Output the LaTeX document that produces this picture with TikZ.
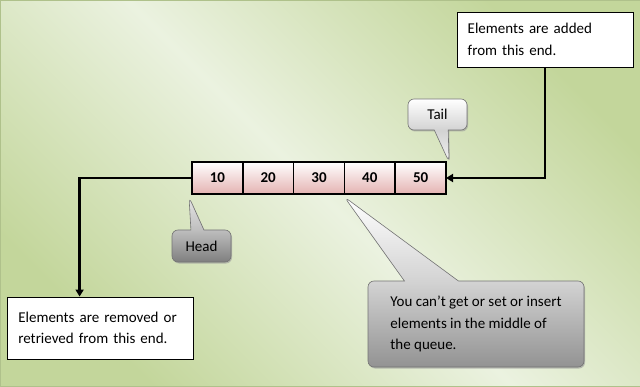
\documentclass[tikz,border=0pt]{standalone}
\usepackage{fontspec}
\setmainfont{Carlito}
\usetikzlibrary{shapes.callouts, arrows.meta, positioning, shadows}

\definecolor{bgLight}{HTML}{EBF2E0}
\definecolor{bgGreen}{HTML}{C3D69B}
\definecolor{cellPink}{HTML}{E4B3B2}

\begin{document}
\begin{tikzpicture}[
    x=1pt, y=1pt,
    every node/.style={font=\fontsize{15}{21.7}\selectfont},
    cell/.style={rectangle, draw=black, line width=1.5pt, outer sep=0pt, inner sep=0pt, minimum width=50.8pt, minimum height=32pt, top color=white, bottom color=cellPink, font=\fontsize{15}{18}\selectfont\bfseries},
    note/.style={rectangle, draw=black, line width=0.9pt, fill=white, align=left, inner ysep=0pt},
    bubble/.style={rectangle callout, rounded corners=6pt, draw=gray!90!black, line width=0.6pt, drop shadow={shadow xshift=1pt, shadow yshift=-1.5pt, fill=gray!80, opacity=0.6}},
    arrow/.style={-{Triangle[length=7pt, width=8pt]}, line width=2.8pt}
]

% background
\useasboundingbox (0,0) rectangle (640,386);
\shade[left color=bgGreen, right color=bgGreen, middle color=bgLight, shading angle=135, draw=bgGreen!90!black, line width=0.8pt] (0,0) rectangle (640,386);

% queue
\node[cell] (c1) at (217.4,208) {10};
\node[cell, right=0pt of c1] (c2) {20};
\node[cell, right=0pt of c2] (c3) {30};
\node[cell, right=0pt of c3] (c4) {40};
\node[cell, right=0pt of c4] (c5) {50};

% ends
\node[note, text width=154.6pt, inner xsep=10.7pt, minimum height=55pt] (added) at (545,346.5) {Elements are added\\from this end.};
\node[note, text width=163.4pt, inner xsep=11.3pt, minimum height=62pt] (removed) at (100,58) {Elements are removed or\\retrieved from this end.};

\draw[arrow] (added.south) |- (c5.east);
\draw[arrow] (c1.west) -| ([xshift=-20.4pt]removed.north);

% callouts
\node[bubble, minimum width=59pt, minimum height=31pt, top color=white, bottom color=gray!10, middle color=gray!35, callout absolute pointer={([xshift=3pt]c5.north east)}, callout pointer width=14pt] (tail) at (437.5,271.5) {Tail};
\node[bubble, minimum width=59pt, minimum height=32pt, top color=gray!20, bottom color=gray, middle color=gray!50, callout absolute pointer={([xshift=-3pt, yshift=-3pt]c1.south west)}, callout pointer width=13pt] (head) at (201.5,140) {Head};
\node[bubble, align=left, minimum width=216pt, minimum height=86pt, top color=white, bottom color=gray!85, middle color=gray!35, callout absolute pointer={([yshift=-3pt]c3.south east)}, callout pointer width=54pt] (middle) at (476,62) {You can’t get or set or insert\\elements in the middle of\\the queue.};

\end{tikzpicture}
\end{document}
